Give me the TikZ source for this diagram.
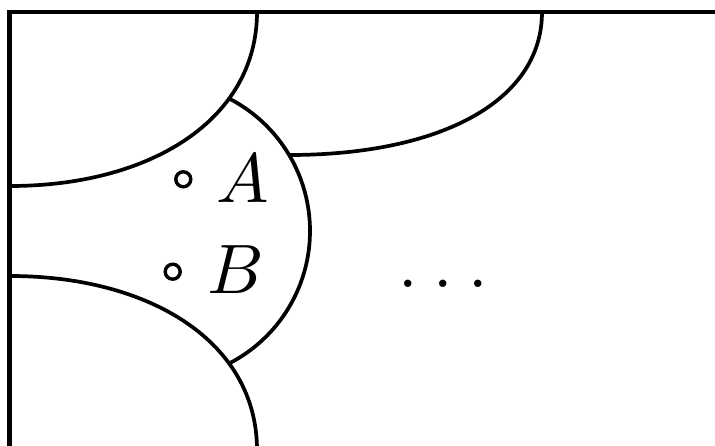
\documentclass[tikz,border=0pt]{standalone}
\font\labfont=cmmi10 at 70pt
\begin{document}
\begin{tikzpicture}[x=1pt,y=-1pt,
  frameline/.style={line width=4.6pt},
  curve/.style={line width=3.7pt},
  pt/.style={circle,draw,line width=3.4pt,minimum size=15pt,inner sep=0pt},
  lbl/.style={anchor=base,inner sep=0pt,font=\labfont}]
\useasboundingbox (0,0) rectangle (715,446);
\clip (0,0) rectangle (715,446);
% frame
\coordinate (fb) at (9.5,470);
\coordinate (fc) at (9.5,12);
\coordinate (fr) at (740,12);
\draw[frameline] (fb) -- (fc) -- (fr);
% junction points
\coordinate (j1) at (230,99);
\coordinate (j2) at (289,155);
\coordinate (j3) at (230,363);
\coordinate (east) at (310,231);
% top-left region boundary
\coordinate (tl0) at (257,12);
\coordinate (tl1) at (10,186);
\draw[curve] (tl0) .. controls (257,120) and (150,186) .. (tl1);
% bottom-left region boundary
\coordinate (bl0) at (10,276);
\coordinate (bl1) at (257,450);
\draw[curve] (bl0) .. controls (150,276) and (257,342) .. (bl1);
% middle arc
\draw[curve] (j1) .. controls (279.2,124.7) and (310,175.5) .. (east)
  .. controls (310,286.5) and (279.2,337.3) .. (j3);
% top-right boundary
\coordinate (tr0) at (542,12);
\draw[curve] (tr0) .. controls (542,102) and (439,155) .. (j2);
% points and labels
\node[pt] (pA) at (183.3,179.3) {};
\node[pt] (pB) at (172.7,271.7) {};
\node[lbl] (lA) at (243,203) {A};
\node[lbl] (lB) at (234,294) {B};
\node[lbl] (dots) at (443,288) {\char"3A\kern15.6pt\char"3A\kern15.6pt\char"3A};
\end{tikzpicture}
\end{document}
